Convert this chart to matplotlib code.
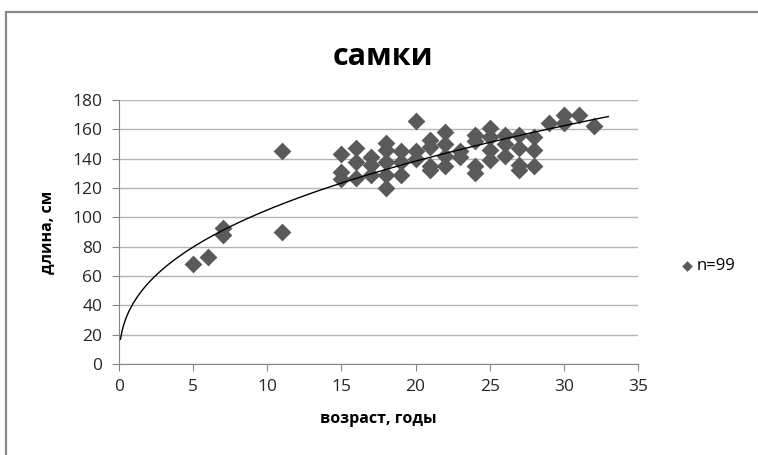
import numpy as np
import matplotlib
matplotlib.use("Agg")
import matplotlib.pyplot as plt
from matplotlib.patches import Rectangle

plt.rcParams['font.family'] = ['Open Sans', 'DejaVu Sans']

# data
ages = [5, 6, 7, 7, 11, 11,
        15, 15, 15, 16, 16, 16, 17, 17, 17,
        18, 18, 18, 18, 18, 19, 19, 19, 20, 20, 20,
        21, 21, 21, 21, 22, 22, 22, 22, 23, 23,
        24, 24, 24, 24, 25, 25, 25, 25, 26, 26, 26,
        27, 27, 27, 27, 28, 28, 28, 29, 30, 30, 31, 32]
lengths = [68, 73, 93, 88, 145, 90,
           143, 131, 126, 147, 138, 127, 141, 136, 129,
           151, 146, 138, 129, 120, 145, 138, 129, 166, 145, 140,
           153, 148, 135, 132, 158, 150, 142, 135, 145, 141,
           156, 152, 135, 130, 161, 155, 146, 139, 156, 150, 142,
           156, 147, 136, 132, 155, 146, 135, 164, 170, 164, 170, 162]
title = "самки"
xlabel = "возраст, годы"
ylabel = "длина, см"
legend_label = "n=99"
xticks = [0, 5, 10, 15, 20, 25, 30, 35]
yticks = [0, 20, 40, 60, 80, 100, 120, 140, 160, 180]

# power trend line (Excel style: least squares in log-log)
b, log_a = np.polyfit(np.log(ages), np.log(lengths), 1)
xfit = np.linspace(0.1, 33, 300)
yfit = np.exp(log_a) * xfit ** b

fig = plt.figure(figsize=(7.58, 4.55), dpi=100)
fig.patches.append(Rectangle((6/758, -0.1), 1.2, 1 - 12/455 + 0.1,
                             transform=fig.transFigure, fill=False,
                             edgecolor='#8a8a8a', lw=1.6))
ax = fig.add_axes([119/758, 1 - 364/455, (638 - 119)/758, (364 - 100)/455])

ax.scatter(ages, lengths, marker='D', s=82, color='#5a5a5a', lw=0,
           zorder=3, label=legend_label)
ax.plot(xfit, yfit, color='black', lw=1, zorder=4)

ax.set_xlim(0, 35)
ax.set_ylim(0, 180)
ax.set_xticks(xticks)
ax.set_yticks(yticks)
ax.yaxis.grid(True, color='#b4b4b4', lw=1)
ax.set_axisbelow(True)
for s in ['top', 'right']:
    ax.spines[s].set_visible(False)
for s in ['left', 'bottom']:
    ax.spines[s].set_color('#868686')
ax.tick_params(direction='out', length=5, color='#868686', labelsize=12.5,
               labelcolor='#262626')
ax.tick_params(axis='x', pad=6)
ax.tick_params(axis='y', pad=7)

ax.set_xlabel(xlabel, fontsize=11.5, fontweight='bold', labelpad=11)
ax.set_ylabel(ylabel, fontsize=11.5, fontweight='bold', labelpad=12)
fig.text(383/758, 1 - 57/455, title, fontsize=22, fontweight='bold',
         ha='center', va='center')

ax.legend(loc='center left', bbox_to_anchor=(1.085, 0.37), frameon=False,
          fontsize=12, handlelength=0.6, handletextpad=0.3,
          markerscale=0.6, borderaxespad=0, borderpad=0)

fig.savefig("out.png", dpi=100)
